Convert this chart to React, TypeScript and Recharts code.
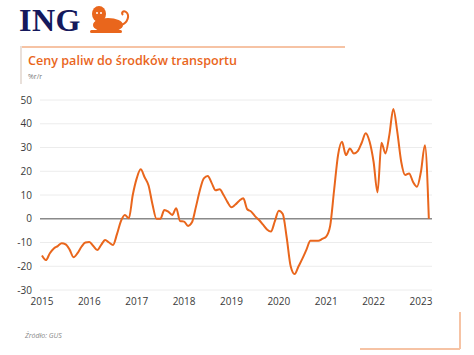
import React from 'react';
import { LineChart, Line, CartesianGrid, XAxis, YAxis, ReferenceLine } from 'recharts';

// monthly y/y change, Jan 2015 .. Mar 2023
const values = [
  -15.5, -17.4, -14.5, -12.5, -11.5, -10.3, -10.8, -13, -16.2, -14.5, -11.8, -10,
  -9.8, -11.5, -13.2, -11, -8.9, -10, -11, -6.5, -1, 1.6, 0.2, 10,
  17, 20.8, 17.5, 14, 6, 0, 0, 3.7, 3, 1.6, 4.4, -1,
  -1.2, -3, -1.5, 5, 12, 17, 18, 15, 12, 12.4, 10, 7,
  4.8, 6, 7.6, 8.6, 4, 3, 1, -0.5, -2.5, -4.5, -5.4, -1,
  3.4, 2, -8, -20, -23.3, -20, -16.7, -13, -9.3, -9.3, -9.3, -8.5,
  -7.5, -3, 12, 26.8, 32.4, 26.8, 29.6, 27.5, 28.5, 32, 36, 32.4,
  24, 11.1, 32, 27.5, 35.3, 46.2, 36.7, 24, 18.4, 19.1, 15.5, 13.5,
  19.8, 31, 0
];
const years = ['2015', '2016', '2017', '2018', '2019', '2020', '2021', '2022', '2023'];
const yTicks = [-30, -20, -10, 0, 10, 20, 30, 40, 50];

const data = values.map((v, i) => ({ m: i, v }));
const xTicks = years.map((_, i) => i * 12);

const orange = '#e9661c';
const light = '#f6c3a4';
const tickStyle = { fontSize: 10, fill: '#3a3a3a', fontFamily: 'Open Sans, sans-serif' };

export default function App() {
  return (
    <div style={{ position: 'absolute', left: 0, top: 0, width: 474, height: 355, background: '#fff', fontFamily: 'Open Sans, sans-serif' }}>
      <div style={{ position: 'absolute', left: 19, top: 2, fontFamily: 'Liberation Serif, serif', fontWeight: 700, fontSize: 32, color: '#15195c', letterSpacing: 0.5 }}>ING</div>
      <svg style={{ position: 'absolute', left: 88, top: 5 }} width={46} height={29} viewBox="0 0 46 29">
        <ellipse cx={11} cy={9} rx={7} ry={8} fill={orange} />
        <ellipse cx={20} cy={20} rx={15} ry={7} fill={orange} />
        <rect x={2} y={25} width={32} height={3} rx={1.5} fill={orange} />
        <path d="M33 20 C40 18 42 10 38 7 C35 5 33 8 35 10" stroke={orange} strokeWidth={2} fill="none" />
        <circle cx={9} cy={8} r={1} fill="#fff" />
        <circle cx={13} cy={8} r={1} fill="#fff" />
      </svg>
      <div style={{ position: 'absolute', left: 20, top: 46, width: 325, height: 1.5, background: light }} />
      <div style={{ position: 'absolute', left: 20, top: 46, width: 1.5, height: 38, background: '#e9e0da' }} />
      <div style={{ position: 'absolute', left: 28, top: 52, fontSize: 12.6, fontWeight: 600, color: orange }}>Ceny paliw do środków transportu</div>
      <div style={{ position: 'absolute', left: 28, top: 72, fontSize: 7, color: '#777' }}>%r/r</div>
      <div style={{ position: 'absolute', left: 25, top: 331, fontSize: 7, fontStyle: 'italic', color: '#888' }}>Źródło: GUS</div>
      <div style={{ position: 'absolute', left: 459, top: 312, width: 1.5, height: 37, background: light }} />
      <div style={{ position: 'absolute', left: 360, top: 348, width: 100, height: 1.5, background: light }} />
      <div style={{ position: 'absolute', left: 0, top: 0 }}>
        <LineChart width={474} height={355} data={data} margin={{ top: 100, right: 42, bottom: 45, left: 0 }}>
          <CartesianGrid vertical={false} stroke="#ececec" />
          <XAxis
            dataKey="m"
            type="number"
            domain={[-0.5, 98.8]}
            ticks={xTicks}
            tickFormatter={(t: number) => years[t / 12]}
            axisLine={false}
            tickLine={false}
            tick={tickStyle}
            height={20}
            interval={0}
          />
          <YAxis
            domain={[-30, 50]}
            ticks={yTicks}
            axisLine={false}
            tickLine={false}
            tick={tickStyle}
            width={40}
            interval={0}
          />
          <ReferenceLine y={0} stroke="#8a8a8a" strokeWidth={1.5} />
          <Line dataKey="v" type="monotone" stroke={orange} strokeWidth={2} dot={false} isAnimationActive={false} />
        </LineChart>
      </div>
    </div>
  );
}
